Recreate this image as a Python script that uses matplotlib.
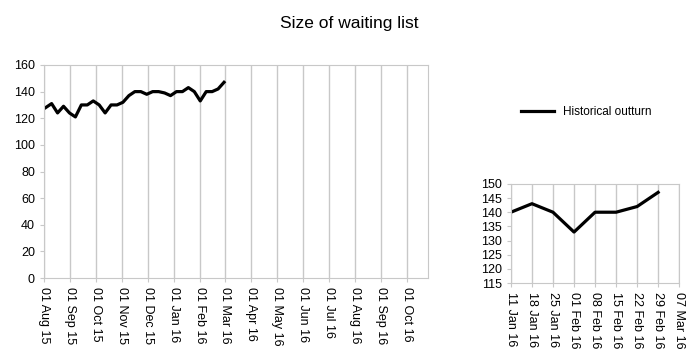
import pandas as pd
import matplotlib.pyplot as plt
import matplotlib.dates as mdates

plt.rcParams['font.family'] = ['Liberation Sans', 'DejaVu Sans']

# weekly waiting list size, Mondays from 03 Aug 15
weeks = pd.date_range('2015-08-03', '2016-02-29', freq='7D')
waiting = [128, 131, 124, 129, 124, 121, 130, 130, 133, 130, 124, 130, 130, 132,
           137, 140, 140, 138, 140, 140, 139, 137, 140, 140, 143, 140, 133, 140,
           140, 142, 147]
series_name = 'Historical outturn'

main_ticks = pd.date_range('2015-08-01', '2016-10-01', freq='MS')
zoom_ticks = pd.date_range('2016-01-11', '2016-03-07', freq='7D')
grid_col = '#c8c8c8'

fig = plt.figure(figsize=(6.98, 3.57), dpi=100)
fig.suptitle('Size of waiting list', fontsize=12.5, y=0.955)

def style(ax):
    for s in ax.spines.values():
        s.set_color(grid_col)
    ax.tick_params(colors=grid_col, labelcolor='black', labelsize=9, length=3)
    ax.grid(axis='x', color=grid_col, linewidth=1)
    ax.set_axisbelow(True)
    ax.xaxis.set_major_formatter(mdates.DateFormatter('%d %b %y'))
    for lbl in ax.get_xticklabels():
        lbl.set_rotation(270)

ax = fig.add_axes([0.063, 0.221, 0.55, 0.597])
line, = ax.plot(weeks, waiting, color='black', linewidth=2.3, label=series_name)
ax.set_ylim(0, 160)
ax.set_yticks(range(0, 161, 20))
ax.set_xlim(pd.Timestamp('2015-08-01'), pd.Timestamp('2016-10-26'))
ax.set_xticks(main_ticks)
style(ax)

ax2 = fig.add_axes([0.732, 0.207, 0.241, 0.278])
ax2.plot(weeks, waiting, color='black', linewidth=2.3)
ax2.set_ylim(115, 150)
ax2.set_yticks(range(115, 151, 5))
ax2.set_xlim(zoom_ticks[0], zoom_ticks[-1])
ax2.set_xticks(zoom_ticks)
style(ax2)

fig.legend(handles=[line], loc='center', bbox_to_anchor=(0.84, 0.686),
           frameon=False, fontsize=8.5, handlelength=2.8)

fig.savefig('out.png', dpi=100)
